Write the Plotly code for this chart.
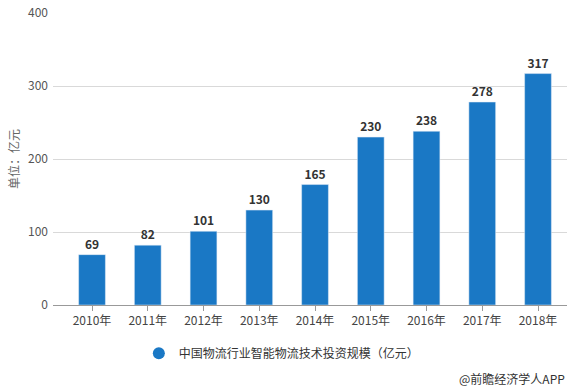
import plotly.graph_objects as go

years = ["2010年", "2011年", "2012年", "2013年", "2014年", "2015年", "2016年", "2017年", "2018年"]
values = [69, 82, 101, 130, 165, 230, 238, 278, 317]
series_name = "中国物流行业智能物流技术投资规模（亿元）"
y_ticks = [0, 100, 200, 300, 400]

BLUE = "#1a78c5"
FONT = "Noto Sans CJK SC, Microsoft YaHei, sans-serif"

fig = go.Figure()
fig.add_trace(go.Bar(
    x=years, y=values, width=0.48, marker_color=BLUE,
    text=[str(v) for v in values], textposition="outside",
    textfont=dict(size=12, color="#333333", family=FONT, weight="bold"),
    cliponaxis=False, showlegend=False,
))
fig.add_trace(go.Scatter(
    x=[None], y=[None], mode="markers", name=series_name,
    marker=dict(symbol="circle", size=11, color=BLUE),
))

fig.update_layout(
    width=575, height=389,
    margin=dict(l=53, r=8, t=13, b=84, autoexpand=False),
    paper_bgcolor="white", plot_bgcolor="white",
    font=dict(family=FONT, size=12, color="#555555"),
    bargap=0.52,
    legend=dict(orientation="h", x=0.167, xanchor="left", y=-0.165, yanchor="middle",
                font=dict(size=12, color="#333333"), itemsizing="constant"),
    xaxis=dict(type="category", range=[-0.7, 8.52], showgrid=False,
               showline=True, linecolor="#999999", linewidth=1,
               ticks="outside", ticklen=5, tickcolor="#999999",
               tickfont=dict(size=12, color="#444444")),
    yaxis=dict(range=[0, 400], tickvals=y_ticks, showgrid=True, gridcolor="#d9d9d9",
               zeroline=False, showline=False, ticks="", ticklabelstandoff=4,
               tickfont=dict(size=12, color="#555555"),
               title=dict(text="单位：亿元", font=dict(size=12, color="#666666"), standoff=5)),
    annotations=[dict(text="@前瞻经济学人APP", xref="paper", yref="paper",
                      x=1.0, y=-0.25, xanchor="right", yanchor="middle", showarrow=False,
                      font=dict(size=12, color="#333333"))],
)

fig.write_html("out.html", config={"displayModeBar": False},
               post_script="document.body.style.margin='0';document.body.style.overflow='hidden';")
